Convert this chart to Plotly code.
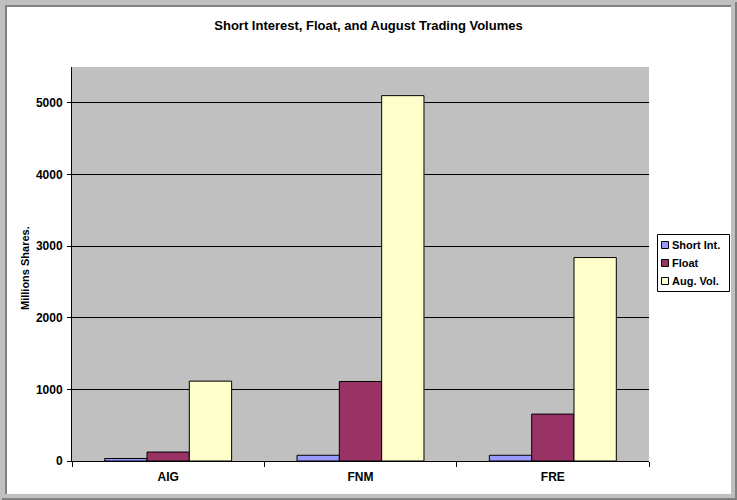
import plotly.graph_objects as go

categories = ["AIG", "FNM", "FRE"]
short_int = [35, 80, 80]
float_vals = [125, 1110, 655]
aug_vol = [1115, 5100, 2840]
series_names = ["Short Int.", "Float", "Aug. Vol."]
y_ticks = [0, 1000, 2000, 3000, 4000, 5000]

W, H = 737, 500
L, R, T, B = 72, 649, 67, 461  # plot area in pixels

def px(x):
    return (x - L) / (R - L)

def py(y):
    return (B - y) / (B - T)

FONT = "Liberation Sans, Arial, sans-serif"
colors = ["#9999FF", "#993366", "#FFFFCC"]

fig = go.Figure()
for name, vals, c in zip(series_names, [short_int, float_vals, aug_vol], colors):
    fig.add_trace(go.Bar(
        x=categories, y=vals, name=name,
        marker=dict(color=c, line=dict(color="black", width=1)),
    ))

light = "#C0C0C0"
dark = "#808080"
shapes = []
annotations = []
def rect(x0, y0, x1, y1, col, line=None):
    shapes.append(dict(type="rect", xref="paper", yref="paper",
                       x0=px(x0), x1=px(x1), y0=py(y1), y1=py(y0),
                       fillcolor=col, line=line or dict(width=0), layer="above"))
# frame: light outer bands
rect(0, 0, W, 5, light)
rect(0, 0, 5, H, light)
rect(731, 0, W, H, light)
rect(0, 494, W, H, light)
# frame: dark lines
rect(5, 5, 731, 7, dark)
rect(5, 5, 7, 494, dark)
rect(735, 2, W, H, dark)
rect(2, 498, W, H, dark)

# custom compact legend (matches the reference box)
rect(657.5, 234.5, 729.5, 291.5, "white", dict(color="black", width=1))
row_y = [245, 263, 281]
for name, c, yy in zip(series_names, colors, row_y):
    rect(661.5, yy - 3.5, 668.5, yy + 3.5, c, dict(color="black", width=1))
    annotations.append(dict(text="<b>%s</b>" % name, xref="paper", yref="paper",
                            x=px(670), y=py(yy), xanchor="left", yanchor="middle",
                            showarrow=False,
                            font=dict(family=FONT, size=11, color="black")))

# y-axis title
annotations.append(dict(text="<b>Millions Shares.</b>", xref="paper", yref="paper",
                        x=px(25), y=py(268), xanchor="center", yanchor="middle",
                        textangle=-90, showarrow=False,
                        font=dict(family=FONT, size=11, color="black")))

fig.update_layout(
    width=W, height=H,
    margin=dict(l=L, r=W - R, t=T, b=H - B, pad=0, autoexpand=False),
    paper_bgcolor="white",
    plot_bgcolor="#C0C0C0",
    barmode="group",
    bargap=0.34,
    bargroupgap=0,
    title=dict(text="<b>Short Interest, Float, and August Trading Volumes</b>",
               x=0.5, xanchor="center", y=1 - 25 / H, yanchor="middle",
               font=dict(family=FONT, size=13, color="black")),
    font=dict(family=FONT, color="black"),
    showlegend=False,
    shapes=shapes,
    annotations=annotations,
)
fig.update_xaxes(
    type="category", showgrid=False, tickson="boundaries",
    ticks="outside", ticklen=5, tickcolor="black", tickwidth=1,
    showline=True, linecolor="black", linewidth=1,
    tickfont=dict(family=FONT, size=12, color="black"),
    tickprefix="<b>", ticksuffix="</b>",
    ticklabelstandoff=5, automargin=False,
)
fig.update_yaxes(
    range=[0, 5500], tickvals=y_ticks,
    ticktext=["<b>%d</b>" % v for v in y_ticks],
    showgrid=True, gridcolor="black", gridwidth=1,
    ticks="outside", ticklen=4, tickcolor="black",
    showline=True, linecolor="black", linewidth=1,
    zeroline=False,
    tickfont=dict(family=FONT, size=12, color="black"),
    ticklabelstandoff=2, automargin=False,
)
fig.write_html("out.html", config={"displayModeBar": False},
               post_script="document.body.style.margin='0';document.body.style.overflow='hidden';")
